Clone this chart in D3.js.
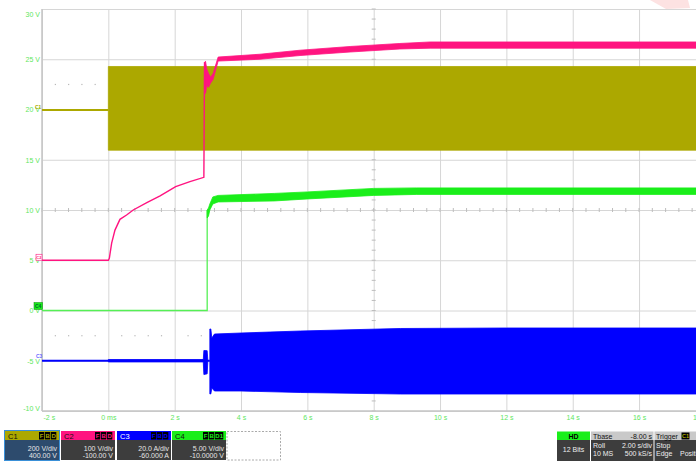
<!DOCTYPE html>
<html><head><meta charset="utf-8">
<script src="https://cdn.jsdelivr.net/npm/d3@7/dist/d3.min.js"></script>
<style>
html,body{margin:0;padding:0;background:#fff;overflow:hidden}
svg{display:block;font-family:"Liberation Sans",Arial,sans-serif}
</style></head><body>
<svg id="c" width="696" height="461"></svg>
<script>
// ---------- axis data ----------
const timeTicks = [-2,0,2,4,6,8,10,12,14,16,18];
const timeLabels = ["-2 s","0 ms","2 s","4 s","6 s","8 s","10 s","12 s","14 s","16 s","18 s"];
const voltTicks = [-10,-5,0,5,10,15,20,25,30];
const voltLabels = ["-10 V","-5 V","0 V","5 V","10 V","15 V","20 V","25 V","30 V"];
const halfDivVolts = [22.5,-2.5];

// ---------- C1 (olive) ----------
const c1LineT = [-2, 0];
const c1LineV = [19.95, 19.95];
const c1BandT  = [0, 18];
const c1BandHi = [24.28, 24.28];
const c1BandLo = [15.95, 15.95];

// ---------- C2 (magenta) ----------
const c2LineT = [-2, 0, 0.03, 0.10, 0.20, 0.35, 0.55, 0.75, 1.16, 1.56, 2.03, 2.46, 2.88, 2.90];
const c2LineV = [5, 5, 5.2, 6.7, 8.0, 9.07, 9.5, 10.0, 10.73, 11.4, 12.32, 12.82, 13.25, 24.7];
const c2BandT  = [2.90, 2.93, 2.97, 3.02, 3.08, 3.16, 3.31, 4.57, 5.78, 7.29, 8.79, 9.7, 18];
const c2BandHi = [24.7, 24.8, 24.0, 23.6, 23.2, 23.6, 25.22, 25.5, 25.9, 26.27, 26.57, 26.72, 26.72];
const c2BandLo = [22.0, 21.6, 22.4, 22.2, 22.6, 23.0, 24.82, 25.0, 25.37, 25.72, 26.02, 26.1, 26.1];

// ---------- C3 (blue) ----------
const c3LineT = [-2, 3.06];
const c3LineV = [-5, -5];
const c3NoiseT  = [0, 2.86];
const c3NoiseHi = [-4.88, -4.88];
const c3NoiseLo = [-5.12, -5.12];
const c3BurstT  = [2.86, 2.88, 2.98, 3.0];
const c3BurstHi = [-5, -3.98, -4.0, -5];
const c3BurstLo = [-5, -6.37, -6.3, -5];
const c3BandT  = [3.06, 3.09, 3.12, 3.2, 4.0, 5.8, 8.8, 12, 18];
const c3BandHi = [-1.84, -1.84, -2.74, -2.34, -2.24, -2.04, -1.79, -1.74, -1.74];
const c3BandLo = [-8.3, -8.3, -7.71, -8.01, -8.01, -8.16, -8.31, -8.31, -8.31];

// ---------- C4 (green) ----------
const c4LineT = [-2, 2.98, 2.98];
const c4LineV = [0, 0, 10.0];
const c4BandT  = [2.98, 3.02, 3.06, 3.15, 3.31, 5.0, 6.0, 8.0, 9.3, 18];
const c4BandHi = [10.0, 10.2, 10.6, 11.3, 11.45, 11.65, 11.8, 12.15, 12.2, 12.2];
const c4BandLo = [9.2, 9.4, 10.0, 10.6, 10.8, 10.9, 11.1, 11.45, 11.55, 11.55];

// ---------- bottom panel text ----------
const chanNames = ["C1","C2","C3","C4"];
const chanColors = ["#aca800","#ff1480","#0000ff","#1aee1a"];
const chanScale = ["200 V/div","100 V/div","20.0 A/div","5.00 V/div"];
const chanOffset = ["400.00 V","-100.00 V","-60.000 A","-10.0000 V"];
const chanBadges = [["F","B","D"],["F","B","D"],["F","B","D"],["F","B","D1"]];

const svg = d3.select("#c");
const W = 696, H = 461;
const x = d3.scaleLinear().domain([-2,18]).range([42, 705.4]);
const y = d3.scaleLinear().domain([-10,30]).range([411, 9]);
const labelColor = "#5ee65e";
const gridColor = "#d6d6d6";

svg.append("rect").attr("width",W).attr("height",H).attr("fill","#fff");
// watermark fragment
svg.append("polygon").attr("points","650,0 688,0 690,8 666,9").attr("fill","#fde2e2");

// grid via axes
const gx = svg.append("g").attr("transform",`translate(0,${y(-10)})`)
  .call(d3.axisBottom(x).tickValues(timeTicks).tickFormat((d,i)=>timeLabels[i])
    .tickSize(-(y(-10)-y(30))).tickPadding(4));
gx.select(".domain").remove();
gx.selectAll(".tick line").attr("stroke",gridColor);
gx.selectAll(".tick text").attr("fill",labelColor).attr("font-size",7);
gx.selectAll(".tick text").filter((d,i)=>i===0).attr("text-anchor","start").attr("x",1);
gx.selectAll(".tick text").filter((d,i)=>i===timeTicks.length-1).attr("text-anchor","start").attr("x",692.5-x(18));

const gy = svg.append("g").attr("transform",`translate(${x(-2)},0)`)
  .call(d3.axisLeft(y).tickValues(voltTicks).tickFormat((d,i)=>voltLabels[i])
    .tickSize(-(x(18)-x(-2))).tickPadding(2));
gy.select(".domain").remove();
gy.selectAll(".tick line").attr("stroke",gridColor);
gy.selectAll(".tick text").attr("fill",labelColor).attr("font-size",7);
gy.selectAll(".tick text").filter(d=>d===30).attr("y",5);
gy.selectAll(".tick text").filter(d=>d===-10).attr("y",-3);

// half-division dots
halfDivVolts.forEach(v=>{
  const ts = d3.range(-2, 18.001, 0.4).filter(t=>Math.abs(Math.round(t/2)*2 - t) > 0.05);
  svg.append("g").selectAll("rect").data(ts).join("rect")
    .attr("x",t=>x(t)-0.5).attr("y",y(v)-0.5).attr("width",1.2).attr("height",1.2).attr("fill","#b8b8b8");
});
// center-line ticks
const cT = d3.range(-2, 18.001, 0.4);
svg.append("g").selectAll("line").data(cT).join("line")
  .attr("x1",t=>x(t)).attr("x2",t=>x(t)).attr("y1",y(10)-2).attr("y2",y(10)+2).attr("stroke","#bdbdbd");
const cV = d3.range(-10, 30.001, 1);
svg.append("g").selectAll("line").data(cV).join("line")
  .attr("y1",v=>y(v)).attr("y2",v=>y(v)).attr("x1",x(8)-2).attr("x2",x(8)+2).attr("stroke","#bdbdbd");

// border
svg.append("line").attr("x1",x(-2)).attr("x2",x(-2)).attr("y1",y(30)).attr("y2",y(-10)).attr("stroke","#c4c4c4").attr("stroke-width",1.5);
svg.append("line").attr("x1",x(-2)).attr("x2",W).attr("y1",y(-10)).attr("y2",y(-10)).attr("stroke","#c4c4c4").attr("stroke-width",1.5);

// helpers
const zipBand = (T,Hi,Lo)=>T.map((t,i)=>({t,hi:Hi[i],lo:Lo[i]}));
const zipLine = (T,V)=>T.map((t,i)=>({t,v:V[i]}));
const area = d3.area().x(d=>x(d.t)).y0(d=>y(d.lo)).y1(d=>y(d.hi));
const line = d3.line().x(d=>x(d.t)).y(d=>y(d.v));
const plot = svg.append("g");
function band(T,Hi,Lo,col){
  plot.append("path").datum(zipBand(T,Hi,Lo)).attr("d",area).attr("fill",col).attr("stroke",col).attr("stroke-width",0.8);
}
function ln(T,V,col,w){
  plot.append("path").datum(zipLine(T,V)).attr("d",line).attr("fill","none").attr("stroke",col).attr("stroke-width",w);
}
// C1
ln(c1LineT,c1LineV,"#aca800",2);
band(c1BandT,c1BandHi,c1BandLo,"#aca800");
// C4
ln(c4LineT,c4LineV,"#55f055",1.3);
band(c4BandT,c4BandHi,c4BandLo,"#1aee1a");
// C3
ln(c3LineT,c3LineV,"#0000ff",1.8);
band(c3NoiseT,c3NoiseHi,c3NoiseLo,"#0000ff");
band(c3BurstT,c3BurstHi,c3BurstLo,"#0000ff");
band(c3BandT,c3BandHi,c3BandLo,"#0000ff");
// C2
ln(c2LineT,c2LineV,"#ff1480",1.4);
band(c2BandT,c2BandHi,c2BandLo,"#ff1480");

// channel markers
const mk = svg.append("g").attr("font-size",5).attr("font-weight","bold");
mk.append("text").attr("x",35).attr("y",y(19.95)-1.5).attr("fill","#aca800").text("C1");
mk.append("rect").attr("x",36).attr("y",y(5)-6).attr("width",6).attr("height",6).attr("fill","#fff").attr("stroke","#ff1480").attr("stroke-width",0.6);
mk.append("text").attr("x",36.3).attr("y",y(5)-1.5).attr("fill","#ff1480").attr("font-size",4).text("C2");
mk.append("text").attr("x",36).attr("y",y(-5)-3).attr("fill","#6a6aff").text("C3");
mk.append("rect").attr("x",34).attr("y",y(0)-8).attr("width",8.5).attr("height",7).attr("fill","#1aee1a").attr("stroke","#0a8a0a").attr("stroke-width",0.5);
mk.append("text").attr("x",35).attr("y",y(0)-2.5).attr("fill","#063").text("C4");

// ---------- bottom panel ----------
const bp = svg.append("g").attr("font-size",7);
const boxX = [5,61,117,172];
const boxW = 54;
chanNames.forEach((n,i)=>{
  const bx = boxX[i];
  bp.append("rect").attr("x",bx).attr("y",431).attr("width",boxW).attr("height",9).attr("fill",chanColors[i]);
  bp.append("rect").attr("x",bx).attr("y",440).attr("width",boxW).attr("height",20).attr("fill",i===0?"#2d4b6d":"#3d3d3d");
  bp.append("text").attr("x",bx+3).attr("y",438.5).attr("fill",i===2?"#fff":"#111").attr("font-size",7.5).text(n);
  const bw = [6,6,i===3?9:6];
  let bxx = bx+boxW-2;
  for(let k=2;k>=0;k--){
    bxx -= bw[k];
    bp.append("rect").attr("x",bxx).attr("y",432).attr("width",bw[k]-0.7).attr("height",7.5).attr("fill","#000");
    bp.append("text").attr("x",bxx+(bw[k]-0.7)/2).attr("y",438.3).attr("text-anchor","middle").attr("font-size",6).attr("font-weight","bold").attr("fill",chanColors[i]).text(chanBadges[i][k]);
  }
  bp.append("text").attr("x",bx+boxW-2).attr("y",450.5).attr("text-anchor","end").attr("fill","#e6e6e6").text(chanScale[i]);
  bp.append("text").attr("x",bx+boxW-2).attr("y",458.3).attr("text-anchor","end").attr("fill","#e6e6e6").text(chanOffset[i]);
  if(i===0){
    bp.append("rect").attr("x",bx-0.5).attr("y",430.5).attr("width",boxW+1).attr("height",30).attr("fill","none").attr("stroke","#3a90d8").attr("stroke-width",1);
  }
});
bp.append("rect").attr("x",227).attr("y",431.5).attr("width",53.5).attr("height",28.5).attr("fill","none")
  .attr("stroke","#aaa").attr("stroke-dasharray","2,1.5");

// HD box
bp.append("rect").attr("x",557).attr("y",431.5).attr("width",33).attr("height",8.5).attr("fill","#1aee1a");
bp.append("rect").attr("x",557).attr("y",440).attr("width",33).attr("height",21).attr("fill","#3d3d3d");
bp.append("text").attr("x",573.5).attr("y",438.5).attr("text-anchor","middle").attr("font-weight","bold").attr("fill","#000").text("HD");
bp.append("text").attr("x",573.5).attr("y",452).attr("text-anchor","middle").attr("fill","#eee").text("12 Bits");
// Tbase box
bp.append("rect").attr("x",591).attr("y",431.5).attr("width",62.5).attr("height",8.5).attr("fill","#c9c9c9");
bp.append("rect").attr("x",591).attr("y",440).attr("width",62.5).attr("height",21).attr("fill","#3d3d3d");
bp.append("text").attr("x",593).attr("y",438.5).attr("fill","#111").text("Tbase");
bp.append("text").attr("x",652).attr("y",438.5).attr("text-anchor","end").attr("fill","#111").text("-8.00 s");
bp.append("text").attr("x",593).attr("y",448).attr("fill","#eee").text("Roll");
bp.append("text").attr("x",652).attr("y",448).attr("text-anchor","end").attr("fill","#eee").text("2.00 s/div");
bp.append("text").attr("x",593).attr("y",455.5).attr("fill","#eee").text("10 MS");
bp.append("text").attr("x",652).attr("y",455.5).attr("text-anchor","end").attr("fill","#eee").text("500 kS/s");
// Trigger box
bp.append("rect").attr("x",654.5).attr("y",431.5).attr("width",45).attr("height",8.5).attr("fill","#c9c9c9");
bp.append("rect").attr("x",654.5).attr("y",440).attr("width",45).attr("height",21).attr("fill","#3d3d3d");
bp.append("text").attr("x",656).attr("y",438.5).attr("fill","#111").text("Trigger");
bp.append("rect").attr("x",681.5).attr("y",432.5).attr("width",8).attr("height",7).attr("fill","#000");
bp.append("text").attr("x",685.5).attr("y",438.3).attr("text-anchor","middle").attr("font-size",5.5).attr("font-weight","bold").attr("fill","#aca800").text("C1");
bp.append("text").attr("x",656).attr("y",448).attr("fill","#eee").text("Stop");
bp.append("text").attr("x",656).attr("y",455.5).attr("fill","#eee").text("Edge");
bp.append("text").attr("x",680).attr("y",455.5).attr("fill","#eee").text("Positive");
</script>
</body></html>
